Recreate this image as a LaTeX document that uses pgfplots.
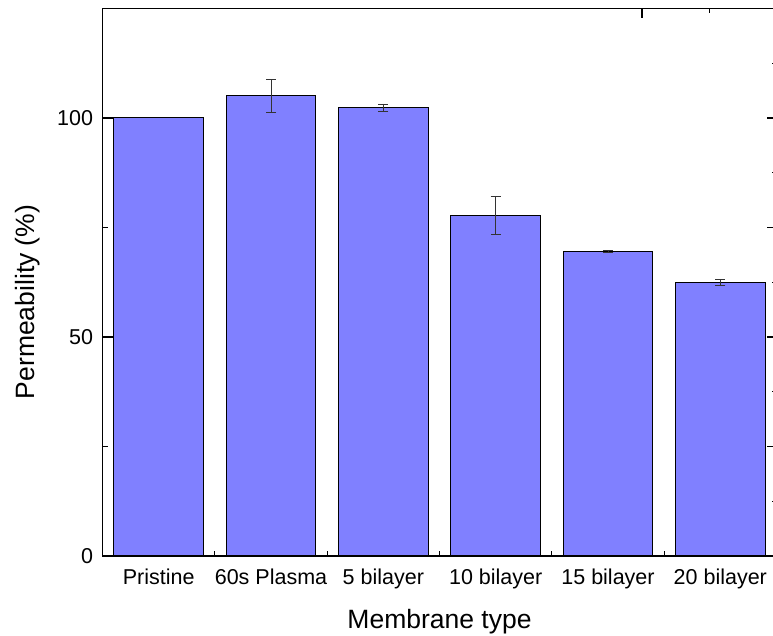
\documentclass[border=0pt]{standalone}
\usepackage{pgfplots}
\pgfplotsset{compat=1.18}
\usepackage{fontspec}
\setmainfont{Liberation Sans}
\definecolor{barblue}{RGB}{128,128,255}
\begin{document}
\begin{tikzpicture}
\begin{axis}[
  at={(102.5pt,80pt)}, anchor=origin,
  scale only axis, width=674pt, height=547.5pt,
  xmin=0.5, xmax=6.5, ymin=0, ymax=125,
  axis line style={line width=1.4pt},
  /pgf/number format/assume math mode=true,
  ybar, bar width=0.8, bar shift=0pt,
  xtick={1,2,3,4,5,6},
  xticklabels={Pristine,60s Plasma,5 bilayer,10 bilayer,15 bilayer,20 bilayer},
  minor xtick={1.5,2.5,3.5,4.5,5.5},
  ytick={0,50,100}, minor ytick={25,75},
  xtick pos=bottom, ytick pos=left,
  tick align=inside,
  major tick length=10pt, minor tick length=5pt,
  every tick/.style={black, line width=1.2pt},
  tick label style={font=\fontsize{21.5}{25}\selectfont},
  xticklabel style={yshift=-9pt},
  yticklabel style={xshift=-6pt},
  label style={font=\fontsize{26.5}{31}\selectfont},
  xlabel={Membrane type},
  ylabel={Permeability (\%)},
  xlabel style={at={(axis description cs:0.5,-0.12)}, anchor=center},
  ylabel style={at={(axis description cs:-0.1105,0.464)}, anchor=center},
]
\addplot[fill=barblue, draw=black, line width=1pt,
  error bars/.cd, y dir=both, y explicit,
  error bar style={black!80, line width=0.7pt},
  error mark options={rotate=90, mark size=5pt, black!80, line width=0.9pt}]
coordinates {
  (2,105.1) +- (0,3.8)
  (3,102.4) +- (0,0.8)
  (4,77.7) +- (0,4.3)
  (5,69.5) +- (0,0.15)
  (6,62.4) +- (0,0.7)
};
\addplot[fill=barblue, draw=black, line width=1pt]
coordinates {(1,100)};
\end{axis}
\begin{axis}[
  at={(102.5pt,80pt)}, anchor=origin,
  scale only axis, width=674pt, height=547.5pt,
  xmin=0.5, xmax=6.5, ymin=0, ymax=125,
  axis x line*=top, axis y line*=right,
  axis line style={line width=1.4pt, -},
  xtick={5.303}, minor xtick={5.9},
  ytick={0,25,50,75,100,125}, minor ytick={12.5,37.5,62.5,87.5,112.5},
  xticklabels={}, yticklabels={},
  tick align=inside,
  major tick length=10pt, minor tick length=5pt,
  every tick/.style={black, line width=1.2pt},
]
\addplot[draw=none] coordinates {(1,0)};
\end{axis}
\pgfresetboundingbox
\path[use as bounding box] (0pt,0pt) rectangle (773pt,636pt);
\end{tikzpicture}
\end{document}
